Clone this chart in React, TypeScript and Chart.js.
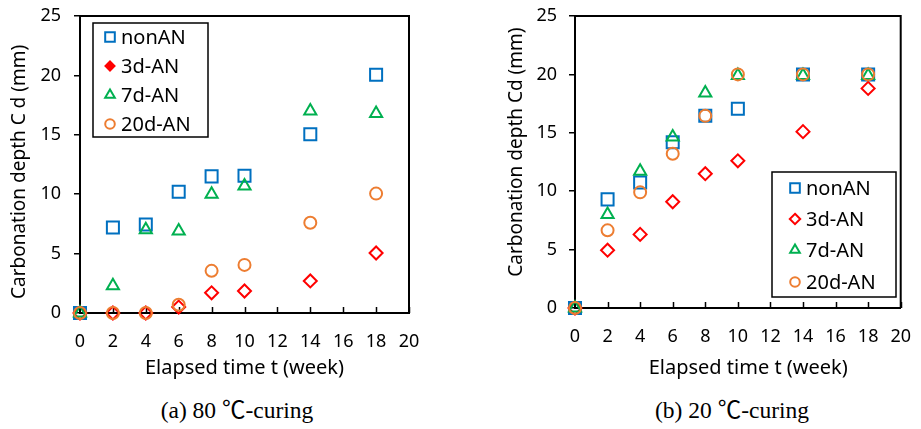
import React, { useEffect, useRef } from 'react';
import { Chart, registerables } from 'chart.js';
Chart.register(...registerables);

const weeks = [0, 2, 4, 6, 8, 10, 14, 18];
const xTicks = [0, 2, 4, 6, 8, 10, 12, 14, 16, 18, 20];
const yTicks = [0, 5, 10, 15, 20, 25];
const seriesNames = ['nonAN', '3d-AN', '7d-AN', '20d-AN'];

// (a) 80 ℃-curing
const a_nonAN = [0, 7.2, 7.45, 10.2, 11.5, 11.55, 15.05, 20.05];
const a_3dAN = [0, 0, 0, 0.5, 1.7, 1.85, 2.7, 5.05];
const a_7dAN = [0, 2.3, 7.0, 6.9, 10.0, 10.7, 17.0, 16.8];
const a_20dAN = [0, 0, 0, 0.7, 3.55, 4.05, 7.6, 10.05];

// (b) 20 ℃-curing
const b_nonAN = [0, 9.3, 10.75, 14.2, 16.45, 17.05, 20, 20];
const b_3dAN = [0, 4.95, 6.3, 9.1, 11.5, 12.6, 15.1, 18.8];
const b_7dAN = [0, 8.0, 11.7, 14.65, 18.4, 19.9, 19.9, 19.9];
const b_20dAN = [0, 6.65, 9.9, 13.2, 16.45, 20, 20, 20];

const COLORS = ['#0070C0', '#FF0000', '#00B050', '#ED7D31'];
const STYLES = ['rect', 'rectRot', 'triangle', 'circle'];
const RADII = [8.5, 6.5, 7, 6];
const ORDERS = [4, 3, 2, 1];
const FONT = "'Noto Sans', 'Open Sans', sans-serif";

function drawMarker(ctx, style, x, y, r, color, filled) {
  ctx.save();
  ctx.beginPath();
  if (style === 'rect') {
    const s = Math.SQRT1_2 * r;
    ctx.rect(x - s, y - s, 2 * s, 2 * s);
  } else if (style === 'rectRot') {
    ctx.moveTo(x, y - r);
    ctx.lineTo(x + r, y);
    ctx.lineTo(x, y + r);
    ctx.lineTo(x - r, y);
    ctx.closePath();
  } else if (style === 'triangle') {
    let a = 0;
    ctx.moveTo(x + Math.sin(a) * r, y - Math.cos(a) * r);
    a += (2 * Math.PI) / 3;
    ctx.lineTo(x + Math.sin(a) * r, y - Math.cos(a) * r);
    a += (2 * Math.PI) / 3;
    ctx.lineTo(x + Math.sin(a) * r, y - Math.cos(a) * r);
    ctx.closePath();
  } else {
    ctx.arc(x, y, r, 0, Math.PI * 2);
  }
  ctx.lineWidth = 2;
  ctx.strokeStyle = color;
  ctx.fillStyle = filled ? color : '#fff';
  ctx.fill();
  ctx.stroke();
  ctx.restore();
}

const framePlugin = {
  id: 'frame',
  beforeDatasetsDraw(chart) {
    const { ctx, chartArea } = chart;
    const x = chart.scales.x;
    ctx.save();
    ctx.strokeStyle = '#000';
    ctx.lineWidth = 2;
    ctx.beginPath();
    ctx.moveTo(chartArea.left, chartArea.top);
    ctx.lineTo(chartArea.right, chartArea.top);
    ctx.lineTo(chartArea.right, chartArea.bottom);
    ctx.stroke();
    ctx.lineWidth = 1.5;
    ctx.beginPath();
    xTicks.forEach((v) => {
      if (v === 0) return;
      const px = Math.round(x.getPixelForValue(v)) + 0.5;
      ctx.moveTo(px, chartArea.bottom);
      ctx.lineTo(px, chartArea.bottom - 6);
    });
    ctx.stroke();
    ctx.restore();
  },
};

const legendPlugin = {
  id: 'boxLegend',
  afterDraw(chart, _args, opts) {
    if (!opts || opts.x === undefined) return;
    const { ctx } = chart;
    ctx.save();
    ctx.lineWidth = 1.5;
    ctx.strokeStyle = '#000';
    ctx.fillStyle = '#fff';
    ctx.fillRect(opts.x, opts.y, opts.w, opts.h);
    ctx.strokeRect(opts.x, opts.y, opts.w, opts.h);
    seriesNames.forEach((name, i) => {
      const y = opts.rows[i];
      const filled = opts.filled[i];
      const r = filled ? 4.5 : RADII[i] * 0.8;
      drawMarker(ctx, STYLES[i], opts.markerX, y, r, COLORS[i], filled);
      ctx.fillStyle = '#000';
      ctx.font = `20px ${FONT}`;
      ctx.textBaseline = 'middle';
      ctx.textAlign = 'left';
      ctx.fillText(name, opts.textX, y + 1);
    });
    ctx.restore();
  },
};

function buildConfig(values, geo) {
  const datasets = values.map((vals, i) => ({
    label: seriesNames[i],
    data: weeks.map((w, j) => ({ x: w, y: vals[j] })),
    pointStyle: STYLES[i],
    pointRadius: RADII[i],
    pointBorderWidth: 2,
    borderColor: COLORS[i],
    backgroundColor: 'rgba(255,255,255,0)',
    pointBackgroundColor: 'rgba(255,255,255,0)',
    showLine: false,
    clip: false,
    order: ORDERS[i],
  }));
  return {
    type: 'scatter',
    data: { datasets },
    plugins: [framePlugin, legendPlugin],
    options: {
      animation: false,
      responsive: false,
      events: [],
      layout: { padding: { left: 0, right: geo.padRight, top: geo.padTop, bottom: 0 } },
      plugins: {
        legend: { display: false },
        tooltip: { enabled: false },
        boxLegend: geo.legend,
      },
      scales: {
        x: {
          type: 'linear',
          min: 0,
          max: 20,
          afterBuildTicks: (s) => {
            s.ticks = xTicks.map((v) => ({ value: v }));
          },
          afterFit: (s) => {
            s.height = geo.xHeight;
          },
          grid: { display: false },
          border: { display: true, color: '#000', width: 2 },
          ticks: {
            color: '#000',
            font: { size: 18, family: FONT },
            padding: geo.xTickPad,
            maxRotation: 0,
            autoSkip: false,
          },
          title: {
            display: true,
            text: geo.xTitle,
            color: '#000',
            font: { size: 20, family: FONT },
            padding: { top: 0, bottom: geo.xTitlePad },
          },
        },
        y: {
          type: 'linear',
          min: 0,
          max: 25,
          afterBuildTicks: (s) => {
            s.ticks = yTicks.map((v) => ({ value: v }));
          },
          afterFit: (s) => {
            s.width = geo.yWidth;
            s.paddingTop = 0;
            s.paddingBottom = 0;
          },
          grid: {
            display: true,
            drawOnChartArea: false,
            drawTicks: true,
            tickLength: 6,
            color: '#000',
            lineWidth: 1.5,
          },
          border: { display: true, color: '#000', width: 2 },
          ticks: {
            color: '#000',
            font: { size: 18, family: FONT },
            padding: geo.yTickPad,
          },
          title: {
            display: true,
            text: geo.yTitle,
            color: '#000',
            font: { size: 19, family: FONT },
            padding: { top: geo.yTitlePad, bottom: 0 },
          },
        },
      },
    },
  };
}

const CANVAS_H = 390;

function Panel({ values, geo, width, left, caption, captionX }) {
  const ref = useRef(null);
  useEffect(() => {
    const chart = new Chart(ref.current, buildConfig(values, geo));
    return () => chart.destroy();
  }, []);
  return (
    <>
      <canvas
        ref={ref}
        width={width}
        height={CANVAS_H}
        style={{ position: 'absolute', left, top: 0, width, height: CANVAS_H }}
      />
      <div
        style={{
          position: 'absolute',
          left: captionX - 140,
          width: 280,
          top: 396,
          textAlign: 'center',
          fontFamily: "'Liberation Serif', 'Noto Sans CJK JP', serif",
          fontSize: 23.5,
          color: '#000',
          lineHeight: '28px',
        }}
      >
        {caption}
      </div>
    </>
  );
}

export default function App() {
  const geoA = {
    padRight: 51,
    padTop: 16,
    xHeight: CANVAS_H - 313,
    yWidth: 80,
    xTickPad: 10,
    xTitlePad: 10,
    xTitle: 'Elapsed time t (week)',
    yTitle: 'Carbonation depth C d (mm)   ',
    yTickPad: 13,
    yTitlePad: 8.6,
    legend: {
      x: 93,
      y: 23,
      w: 115,
      h: 114,
      rows: [37, 66, 95, 124],
      markerX: 110,
      textX: 121,
      filled: [false, true, false, false],
    },
  };
  const geoB = {
    padRight: 17,
    padTop: 16,
    xHeight: CANVAS_H - 308,
    yWidth: 115,
    xTickPad: 10,
    xTitlePad: 10,
    xTitle: '    Elapsed time t (week)',
    yTitle: '    Carbonation depth Cd (mm)',
    yTickPad: 12,
    yTitlePad: 45.6,
    legend: {
      x: 312,
      y: 172,
      w: 124,
      h: 125,
      rows: [188, 219, 250, 282],
      markerX: 335,
      textX: 346,
      filled: [false, false, false, false],
    },
  };
  return (
    <div style={{ position: 'absolute', left: 0, top: 0, width: 921, height: 429, background: '#fff' }}>
      <Panel
        values={[a_nonAN, a_3dAN, a_7dAN, a_20dAN]}
        geo={geoA}
        width={460}
        left={0}
        caption="(a) 80 ℃-curing"
        captionX={237}
      />
      <Panel
        values={[b_nonAN, b_3dAN, b_7dAN, b_20dAN]}
        geo={geoB}
        width={461}
        left={460}
        caption="(b) 20 ℃-curing"
        captionX={732}
      />
    </div>
  );
}
